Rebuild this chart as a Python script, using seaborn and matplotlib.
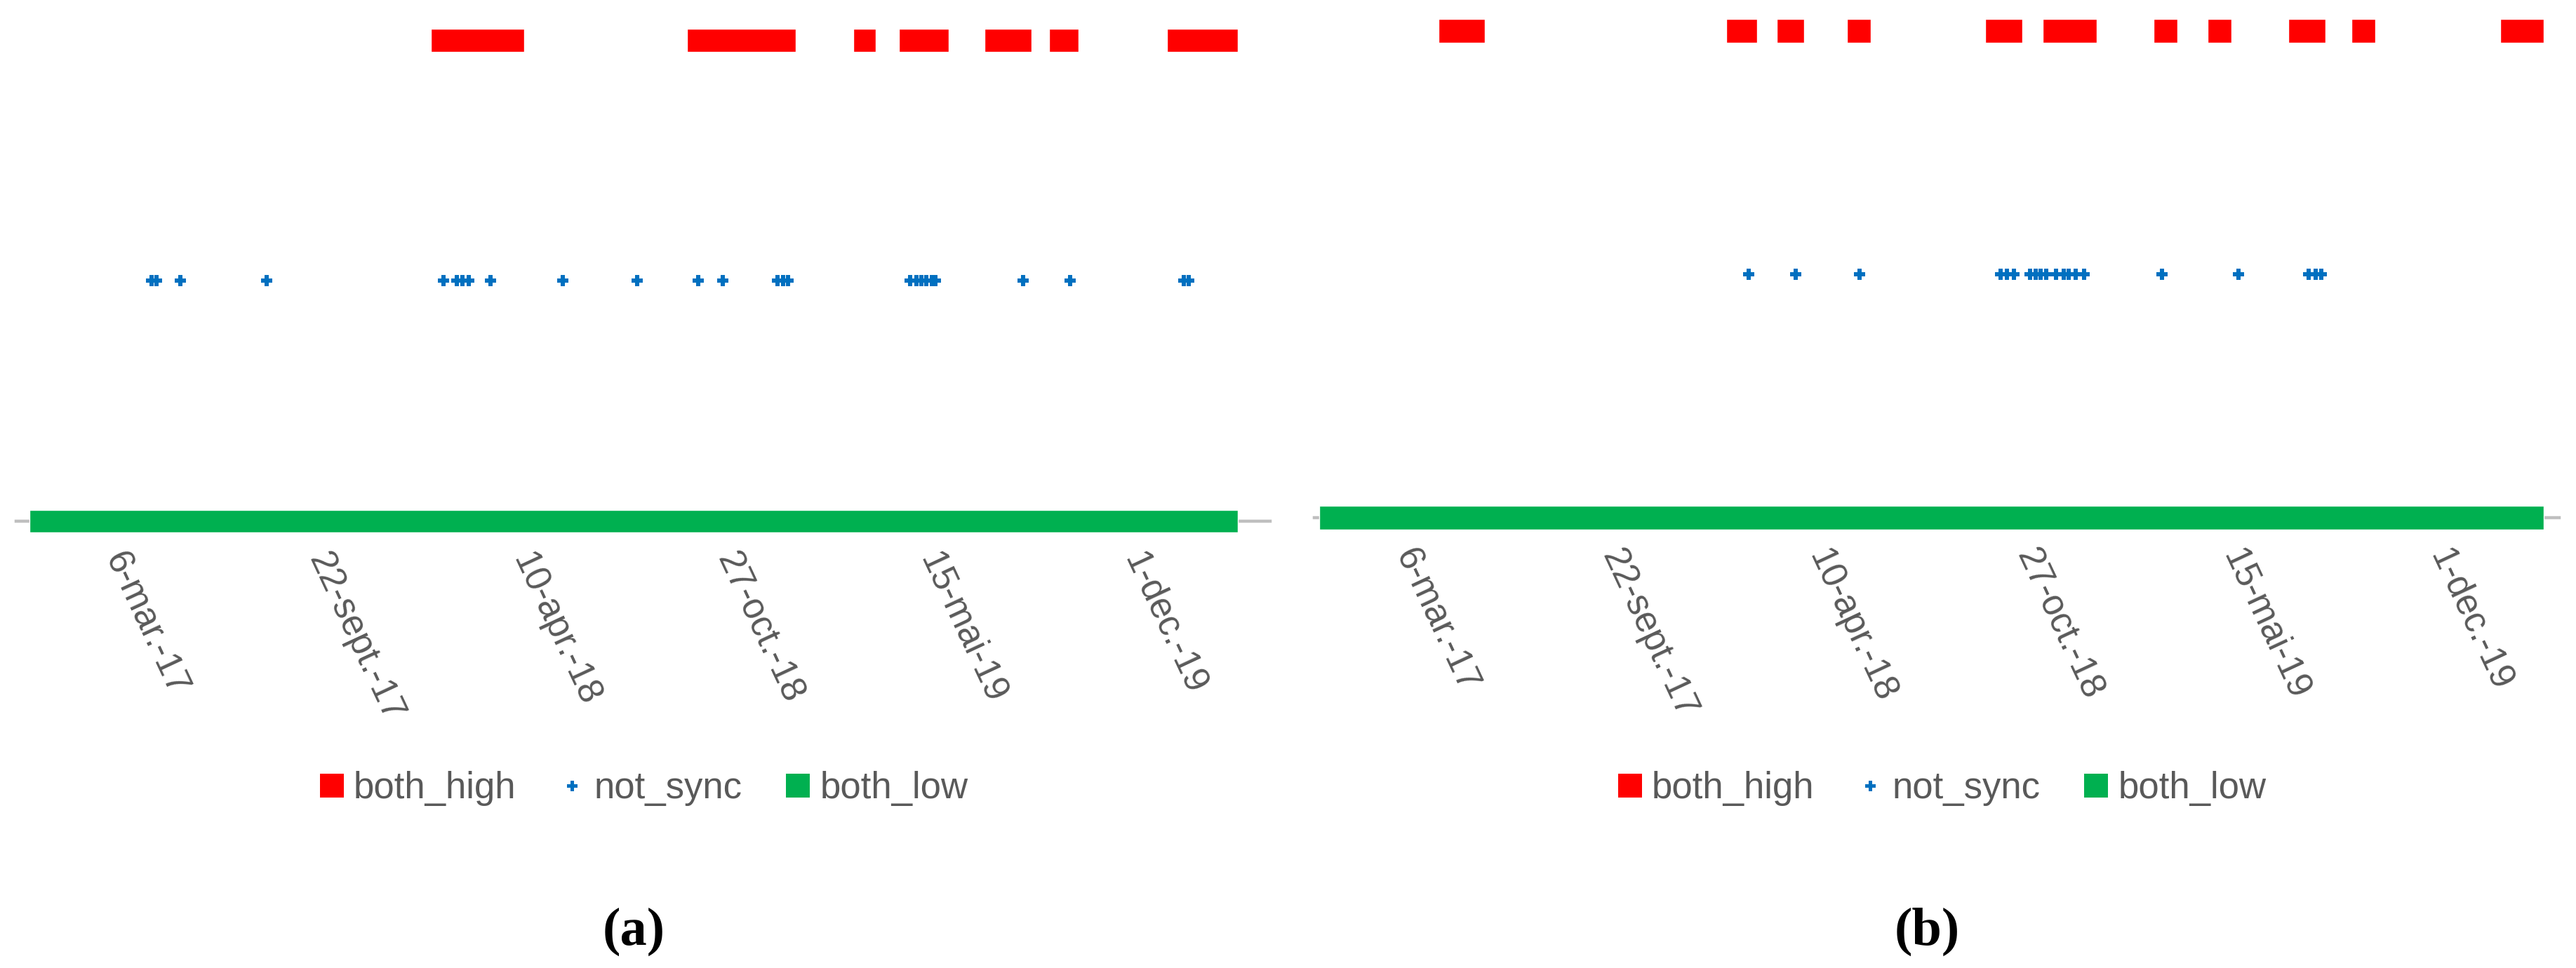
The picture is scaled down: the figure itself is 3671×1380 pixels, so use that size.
import matplotlib.pyplot as plt
import matplotlib.dates as mdates
from matplotlib.lines import Line2D
import pandas as pd
import seaborn as sns

sns.set_theme(style="white")
plt.rcParams['font.family'] = ['Liberation Sans', 'DejaVu Sans']

RED = '#FF0000'
BLUE = '#0070C0'
GREEN = '#00B050'
TEXT = '#595959'

# Panel (a)
a_high_start = ["2018-01-12", "2018-09-20", "2019-03-02", "2019-04-16", "2019-07-09", "2019-09-10", "2020-01-04"]
a_high_end = ["2018-04-13", "2019-01-05", "2019-03-24", "2019-06-04", "2019-08-24", "2019-10-09", "2020-03-13"]
a_low_start = ["2016-12-14"]
a_low_end = ["2020-03-13"]
a_not_sync = ["2017-04-13", "2017-04-18", "2017-05-11", "2017-08-04", "2018-01-24", "2018-02-06",
              "2018-02-12", "2018-02-18", "2018-03-11", "2018-05-21", "2018-08-02", "2018-10-01",
              "2018-10-25", "2018-12-18", "2018-12-23", "2018-12-28", "2019-04-27", "2019-05-03",
              "2019-05-08", "2019-05-13", "2019-05-18", "2019-05-22", "2019-08-16", "2019-10-01",
              "2020-01-20", "2020-01-25"]
a_xlim = ["2016-12-01", "2020-04-14"]

# Panel (b)
b_high_start = ["2017-04-09", "2018-01-12", "2018-03-02", "2018-05-09", "2018-09-19", "2018-11-14",
                "2019-03-01", "2019-04-22", "2019-07-09", "2019-09-08", "2020-01-30"]
b_high_end = ["2017-05-24", "2018-02-11", "2018-03-28", "2018-06-01", "2018-10-25", "2019-01-05",
              "2019-03-24", "2019-05-15", "2019-08-14", "2019-10-01", "2020-03-12"]
b_low_start = ["2016-12-15"]
b_low_end = ["2020-03-12"]
b_not_sync = ["2018-02-03", "2018-03-20", "2018-05-21", "2018-10-04", "2018-10-10", "2018-10-17",
              "2018-11-02", "2018-11-07", "2018-11-12", "2018-11-17", "2018-11-27", "2018-12-04",
              "2018-12-09", "2018-12-16", "2018-12-24", "2019-03-09", "2019-05-22", "2019-07-29",
              "2019-08-05", "2019-08-10"]
b_xlim = ["2016-12-10", "2020-03-27"]

tick_dates = ["2017-03-06", "2017-09-22", "2018-04-10", "2018-10-27", "2019-05-15", "2019-12-01"]
tick_labels = ["6-mar.-17", "22-sept.-17", "10-apr.-18", "27-oct.-18", "15-mai-19", "1-dec.-19"]
legend_labels = ["both_high", "not_sync", "both_low"]
levels = {"both_high": 2, "not_sync": 1, "both_low": 0}


def to_num(dates):
    return mdates.date2num(pd.to_datetime(dates).values)


def draw_panel(ax, high_start, high_end, low_start, low_end, not_sync, xlim):
    # not_sync points
    df = pd.DataFrame({'date': pd.to_datetime(not_sync), 'level': levels['not_sync']})
    sns.scatterplot(data=df, x='date', y='level', marker='P', s=125, color=BLUE,
                    linewidth=0, legend=False, ax=ax, zorder=4, clip_on=False)

    # both_high and both_low runs
    hs, he = to_num(high_start), to_num(high_end)
    ax.barh([levels['both_high']] * len(hs), he - hs, left=hs, height=0.096,
            color=RED, zorder=3, clip_on=False)
    ls, le = to_num(low_start), to_num(low_end)
    ax.barh([levels['both_low']] * len(ls), le - ls, left=ls, height=0.096,
            color=GREEN, zorder=3, clip_on=False)

    ax.set_xlim(to_num(xlim))
    ax.set_ylim(0, 2)
    ax.set_xticks(to_num(tick_dates))
    ax.set_xticklabels(tick_labels)
    ax.set_yticks([])
    ax.set_xlabel('')
    ax.set_ylabel('')
    for s in ['top', 'right', 'left']:
        ax.spines[s].set_visible(False)
    ax.spines['bottom'].set_color('#BFBFBF')
    ax.spines['bottom'].set_linewidth(3.2)
    ax.tick_params(axis='x', length=0, pad=34, labelsize=37, labelcolor=TEXT)
    plt.setp(ax.get_xticklabels(), rotation=-65, ha='left', va='center', rotation_mode='anchor')
    ax.set_facecolor('white')


fig = plt.figure(figsize=(36.71, 13.8), dpi=100)
W, H = 3671, 1380
ax_a = fig.add_axes([23 / W, 637 / H, 1787 / W, 685.5 / H])
ax_b = fig.add_axes([1873 / W, 642 / H, 1774 / W, 694 / H])

draw_panel(ax_a, a_high_start, a_high_end, a_low_start, a_low_end, a_not_sync, a_xlim)
draw_panel(ax_b, b_high_start, b_high_end, b_low_start, b_low_end, b_not_sync, b_xlim)

handles = [
    Line2D([], [], marker='s', color=RED, linestyle='', markersize=23.8, markeredgewidth=0),
    Line2D([], [], marker='P', color=BLUE, linestyle='', markersize=10.8, markeredgewidth=0),
    Line2D([], [], marker='s', color=GREEN, linestyle='', markersize=23.8, markeredgewidth=0),
]
for cx in [918 / W, 2768 / W]:
    fig.legend(handles, legend_labels, loc='center', bbox_to_anchor=(cx, (H - 1124) / H),
               ncol=3, frameon=False, fontsize=38, handlelength=0.62, handletextpad=0.28,
               columnspacing=1.2, labelcolor=TEXT)

fig.text(903 / W, (H - 1328) / H, '(a)', ha='center', va='center', fontsize=55,
         fontweight='bold', family='Liberation Serif', color='black')
fig.text(2746 / W, (H - 1328) / H, '(b)', ha='center', va='center', fontsize=55,
         fontweight='bold', family='Liberation Serif', color='black')

fig.savefig('out.png', dpi=100, facecolor='white')
